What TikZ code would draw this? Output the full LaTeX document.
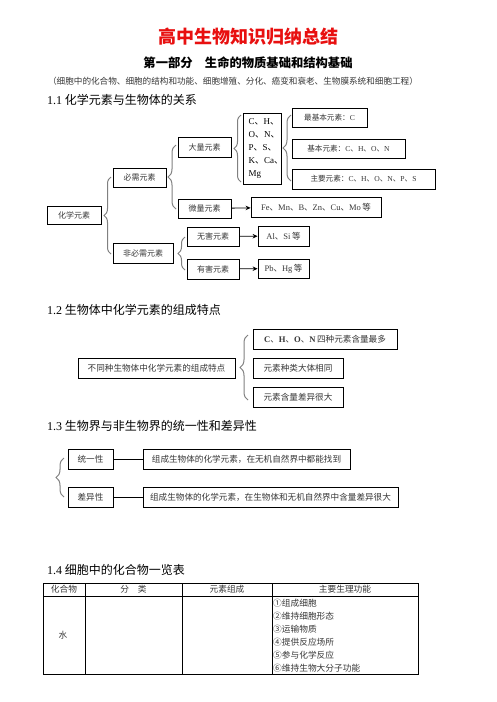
\documentclass[tikz,border=0pt]{standalone}
\usepackage{fontspec}
\setmainfont{Noto Sans CJK SC}
\newfontfamily\tmfont{Liberation Serif}
\newcommand\Tm[1]{{\tmfont #1}}
\usetikzlibrary{decorations.pathreplacing,arrows.meta}
\definecolor{titlered}{RGB}{232,16,16}
\definecolor{txt}{RGB}{55,55,55}
\begin{document}
\begin{tikzpicture}[x=1pt,y=-1pt,
  bx/.style={draw, line width=0.8pt, inner sep=0pt, text=txt, align=center, font=\fontsize{8}{10}\selectfont},
  sz/.style n args={2}{minimum width=#1pt, minimum height=#2pt},
  brc/.style={decorate, decoration={brace, amplitude=#1}, draw=black!50, line width=1pt},
  arr/.style={-{Stealth[length=5pt,width=4.5pt]}, line width=0.8pt},
  head/.style={anchor=west, inner sep=0pt, font=\fontsize{12}{14}\selectfont},
  cell/.style={inner sep=0pt, text=txt, font=\fontsize{8.7}{10}\selectfont},
]
\useasboundingbox[fill=white] (0,0) rectangle (496,702);

% titles
\node[font=\bfseries\fontsize{18}{20}\selectfont, text=titlered] (title) at (248,37) {高中生物知识归纳总结};
\node[font=\bfseries\fontsize{12.3}{14}\selectfont] (sub) at (248,63) {第一部分　生命的物质基础和结构基础};
\node[font=\fontsize{8.6}{10}\selectfont, text=txt] (sub2) at (233,81) {（细胞中的化合物、细胞的结构和功能、细胞增殖、分化、癌变和衰老、生物膜系统和细胞工程）};

% 1.1
\node[head] (h1) at (47,100) {\Tm{1.1} 化学元素与生物体的关系};
\node[bx, sz={54}{18}] (ch) at (74,215) {化学元素};
\node[bx, sz={53}{19}] (bxy) at (139.5,177.5) {必需元素};
\node[bx, sz={60}{20}] (fbx) at (143,253) {非必需元素};
\node[bx, sz={53}{20}] (dl) at (204.5,147) {大量元素};
\node[bx, sz={53}{19}] (wl) at (204.5,208.5) {微量元素};
\node[bx, sz={52}{19}] (wh) at (213,236.5) {无害元素};
\node[bx, sz={52}{20}] (yh) at (213,269) {有害元素};
\node[bx, sz={38}{71}] (cb) at (262,148.5) {};
\node[anchor=west, inner sep=0pt, align=left, font=\fontsize{9}{13}\selectfont] (cbt) at (248.5,148.5)
  {\Tm{C}、\Tm{H}、\\\Tm{O}、\Tm{N}、\\\Tm{P}、\Tm{S}、\\\Tm{K}、\Tm{Ca}、\\\Tm{Mg}};
\node[bx, sz={130}{20}, font=\fontsize{8.5}{10}\selectfont] (fe) at (316,207) {\Tm{Fe}、\Tm{Mn}、\Tm{B}、\Tm{Zn}、\Tm{Cu}、\Tm{Mo}\,等};
\node[bx, sz={51}{20}, font=\fontsize{8.5}{10}\selectfont] (al) at (283.5,236) {\Tm{Al}、\Tm{Si}\,等};
\node[bx, sz={51}{19}, font=\fontsize{8.5}{10}\selectfont] (pb) at (283.5,268.5) {\Tm{Pb}、\Tm{Hg}\,等};
\node[bx, sz={75}{19}, font=\fontsize{7.6}{10}\selectfont] (zj) at (329.5,117.5) {最基本元素：\Tm{C}};
\node[bx, sz={113}{19}, font=\fontsize{7.6}{10}\selectfont] (jb) at (348.5,148.5) {基本元素：\Tm{C}、\Tm{H}、\Tm{O}、\Tm{N}};
\node[bx, sz={143}{20}, font=\fontsize{7.6}{10}\selectfont] (zy) at (363.5,179) {主要元素：\Tm{C}、\Tm{H}、\Tm{O}、\Tm{N}、\Tm{P}、\Tm{S}};

\draw[brc=7] (111,254) -- (111,177);
\draw[brc=8] (176,209) -- (176,145);
\draw[brc=7] (185,270) -- (185,237);
\draw[brc=7] (241,182) -- (241,115);
\draw[brc=8] (291,181) -- (291,115);

\draw[arr] (wl) -- (fe);
\draw[arr] (wh) -- (al);
\draw[arr] (yh) -- (pb);

% 1.2
\node[head] (h2) at (47,310) {\Tm{1.2} 生物体中化学元素的组成特点};
\node[bx, sz={157}{20}, font=\fontsize{8.6}{10}\selectfont] (bt) at (156.5,368) {不同种生物体中化学元素的组成特点};
\node[bx, sz={144}{20}, font=\fontsize{8.6}{10}\selectfont] (t1) at (325,339) {\Tm{\bfseries C}、\Tm{\bfseries H}、\Tm{\bfseries O}、\Tm{\bfseries N}\,四种元素含量最多};
\node[bx, sz={90}{20}, font=\fontsize{8.6}{10}\selectfont] (t2) at (298,368) {元素种类大体相同};
\node[bx, sz={90}{20}, font=\fontsize{8.6}{10}\selectfont] (t3) at (298,397) {元素含量差异很大};
\draw[brc=8] (248,400) -- (248,335);

% 1.3
\node[head] (h3) at (47,426) {\Tm{1.3} 生物界与非生物界的统一性和差异性};
\node[bx, sz={45}{20}, font=\fontsize{8.6}{10}\selectfont] (ty) at (90.5,459) {统一性};
\node[bx, sz={207}{20}, font=\fontsize{8.6}{10}\selectfont] (tyt) at (246.5,459) {组成生物体的化学元素，在无机自然界中都能找到};
\node[bx, sz={45}{20}, font=\fontsize{8.6}{10}\selectfont] (cy) at (90.5,497) {差异性};
\node[bx, sz={255}{20}, font=\fontsize{8.6}{10}\selectfont] (cyt) at (270.5,497) {组成生物体的化学元素，在生物体和无机自然界中含量差异很大};
\draw[line width=0.8pt] (ty) -- (tyt);
\draw[line width=0.8pt] (cy) -- (cyt);
\draw[brc=8] (64,497) -- (64,458);

% 1.4 table
\node[head] (h4) at (47,570) {\Tm{1.4} 细胞中的化合物一览表};
\draw[line width=0.8pt] (43,583) rectangle (418,674);
\draw[line width=0.8pt] (43,596) -- (418,596);
\draw[line width=0.8pt] (85,583) -- (85,674);
\draw[line width=0.8pt] (182,583) -- (182,674);
\draw[line width=0.8pt] (272,583) -- (272,674);
\node[cell] (c1) at (64,589.5) {化合物};
\node[cell] (c2) at (133.5,589.5) {分　类};
\node[cell] (c3) at (227,589.5) {元素组成};
\node[cell] (c4) at (345,589.5) {主要生理功能};
\node[cell] (w) at (63,635) {水};
\node[cell, anchor=west] (f1) at (273,603) {①组成细胞};
\node[cell, anchor=west] (f2) at (273,616) {②维持细胞形态};
\node[cell, anchor=west] (f3) at (273,629) {③运输物质};
\node[cell, anchor=west] (f4) at (273,642) {④提供反应场所};
\node[cell, anchor=west] (f5) at (273,655) {⑤参与化学反应};
\node[cell, anchor=west] (f6) at (273,668) {⑥维持生物大分子功能};
\end{tikzpicture}
\end{document}
